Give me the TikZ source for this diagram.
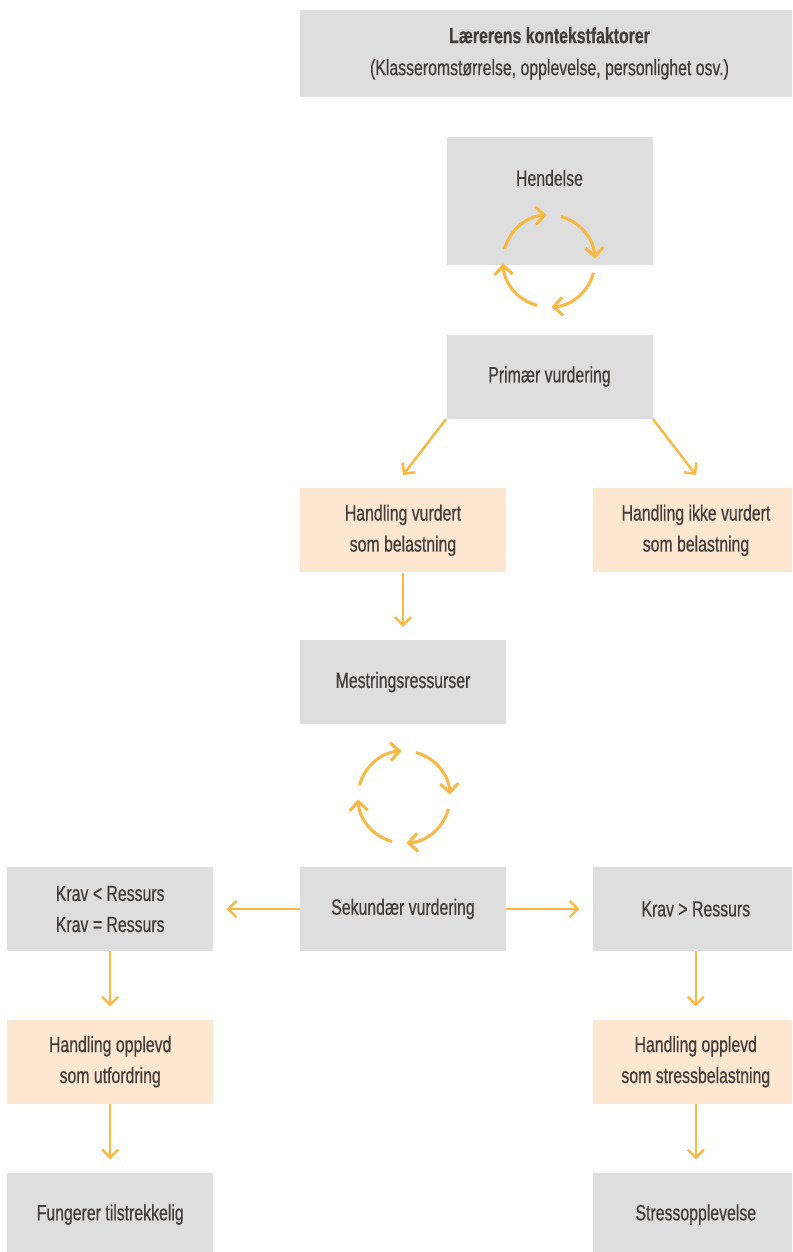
\documentclass[tikz,border=0pt]{standalone}
\usepackage{fontspec}
\setmainfont{Liberation Sans}[FakeStretch=0.72,FakeBold=0.5]
\usepackage{tikz}
\usetikzlibrary{positioning,arrows.meta,calc}

\definecolor{boxgray}{HTML}{DEDEDE}
\definecolor{boxpeach}{HTML}{FDE7D0}
\definecolor{arrorange}{HTML}{F8B842}
\definecolor{txtgray}{HTML}{433E3B}

\begin{document}
\begin{tikzpicture}[
  font=\fontsize{11}{15.5}\selectfont,
  box/.style={fill=boxgray,minimum width=103pt,minimum height=42pt,
              inner sep=0pt,align=center,text=txtgray},
  grey/.style={box},
  peach/.style={box,fill=boxpeach},
  arr/.style={-{Straight Barb[length=4pt,width=8pt]},line width=1.2pt,
              arrorange,shorten >=6.5pt},
  cyc/.style={-{Straight Barb[length=4.5pt,width=9pt]},line width=1.5pt,arrorange}
]
\useasboundingbox (0,0) rectangle (396pt,-626pt);
\clip (0,0) rectangle (396pt,-626pt);

% context on top
\node[grey,minimum width=249.5pt,minimum height=43.5pt,
      font=\fontsize{11}{16}\selectfont] (ctx) at (274.75pt,-26.75pt)
  {\textbf{Lærerens kontekstfaktorer}\\(Klasseromstørrelse, opplevelse, personlighet osv.)};
\node[grey,below=19.5pt of ctx,minimum height=64pt,text height=24.5pt,
      text depth=39.5pt] (hend) {Hendelse};
\node[grey,below=34.5pt of hend] (prim) {Primær vurdering};
\node[peach,below=34.5pt of prim,xshift=-73.25pt] (hvb) {Handling vurdert\\som belastning};
\node[peach,below=34.5pt of prim,xshift=73.25pt]  (hivb) {Handling ikke vurdert\\som belastning};
\node[grey,below=33.5pt of hvb] (mest) {Mestringsressurser};
\node[grey,below=71pt of mest] (sek) {Sekundær vurdering};
\node[grey,left=43pt of sek]  (kl) {Krav < Ressurs\\Krav = Ressurs};
\node[grey,right=43pt of sek] (kg) {Krav > Ressurs};
\node[peach,below=34pt of kl] (hou) {Handling opplevd\\som utfordring};
\node[peach,below=34pt of kg] (hos) {Handling opplevd\\som stressbelastning};
\node[grey,below=34pt of hou] (fun) {Fungerer tilstrekkelig};
\node[grey,below=34pt of hos] (stre) {Stressopplevelse};

% cycles
\coordinate (cyc1) at (274.5pt,-130.5pt);
\coordinate (cyc2) at (202pt,-398.5pt);
\foreach \c in {cyc1,cyc2}
  \foreach \a in {165,75,-15,-105}
    \draw[cyc] ($(\c)+(\a:23pt)$) arc[start angle=\a,end angle=\a-72,radius=23pt];

% arrows
\draw[arr,shorten >=0pt] (prim.south west) -- ([yshift=6.5pt]hvb.north);
\draw[arr,shorten >=0pt] (prim.south east) -- ([yshift=6.5pt]hivb.north);
\foreach \src/\dst in {hvb/mest, sek/kl, sek/kg, kl/hou, hou/fun, kg/hos, hos/stre}
  \draw[arr] (\src) -- (\dst);
\end{tikzpicture}
\end{document}
